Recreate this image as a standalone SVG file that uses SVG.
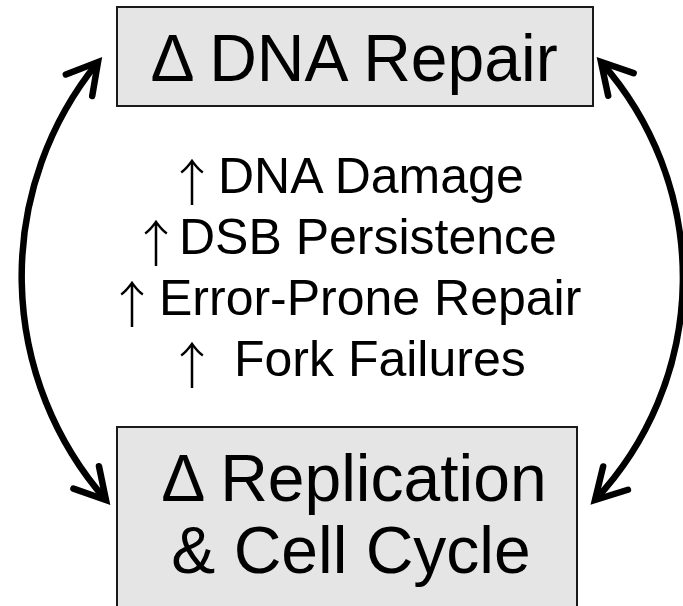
<svg xmlns="http://www.w3.org/2000/svg" width="683" height="606" viewBox="0 0 683 606">
  <style>
    .box { fill: #e5e5e5; stroke: #1a1a1a; stroke-width: 2; }
    .label { font-family: "Liberation Sans", Arial, sans-serif; fill: #000; }
    .mid { text-anchor: middle; }
    .big { font-size: 66px; }
    .effect { font-size: 50px; }
    .up { font-family: "Noto Sans CJK JP", "DejaVu Sans", sans-serif; font-size: 50px; font-weight: 300; }
    .link { fill: none; stroke: #000; stroke-width: 6.5; marker-start: url(#head); marker-end: url(#head); }
  </style>
  <defs>
    <marker id="head" markerUnits="userSpaceOnUse" orient="auto-start-reverse" refX="0" refY="0" markerWidth="1" markerHeight="1" overflow="visible">
      <path d="M -30 -17 L 0 0 L -30 17" fill="none" stroke="#000" stroke-width="6.5" stroke-linecap="round" stroke-linejoin="miter"/>
    </marker>
  </defs>

  <!-- feedback arcs between the two boxes -->
  <g id="connectors">
    <path class="link" d="M 98 62 A 339 339 0 0 0 106 500"/>
    <path class="link" d="M 601 62 A 325 325 0 0 1 595 500"/>
  </g>

  <g id="dna-repair">
    <rect class="box" x="117" y="7" width="476" height="99"/>
    <text class="label mid big" x="354" y="81">Δ DNA Repair</text>
  </g>

  <!-- up arrows sit a little lower than the words they precede -->
  <g id="effects">
    <text class="label effect"><tspan class="up" x="167" y="201">↑</tspan><tspan x="218" y="193">DNA Damage</tspan></text>
    <text class="label effect"><tspan class="up" x="131" y="262">↑</tspan><tspan x="179" y="254">DSB Persistence</tspan></text>
    <text class="label effect"><tspan class="up" x="107" y="323">↑</tspan><tspan x="159" y="315">Error-Prone Repair</tspan></text>
    <text class="label effect"><tspan class="up" x="167" y="384">↑</tspan><tspan x="234" y="376">Fork Failures</tspan></text>
  </g>

  <g id="replication">
    <rect class="box" x="117" y="427" width="460" height="185"/>
    <text class="label mid big" x="354" y="501">Δ Replication</text>
    <text class="label mid big" x="351" y="573">&amp; Cell Cycle</text>
  </g>
</svg>
